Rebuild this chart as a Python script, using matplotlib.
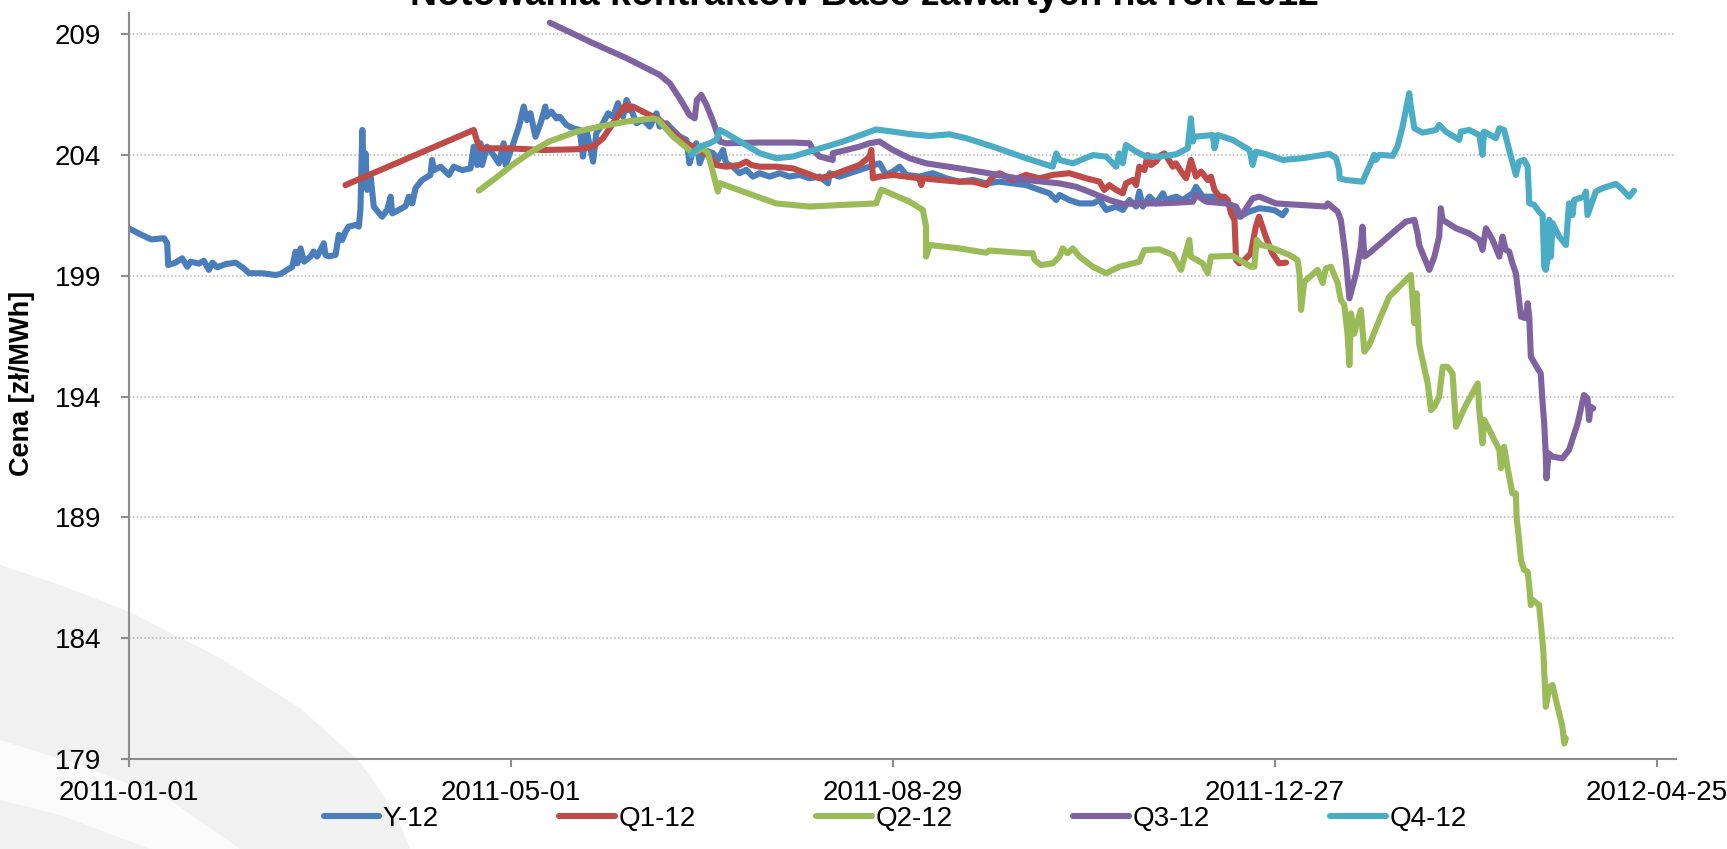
import matplotlib
matplotlib.use('Agg')
import matplotlib.pyplot as plt
import numpy as np
import pandas as pd
from matplotlib.patches import Polygon

plt.rcParams['font.family'] = ['Liberation Sans', 'DejaVu Sans']

START = pd.Timestamp('2011-01-01')

# ---- data: day offset from 2011-01-01 and price [zł/MWh] ----
y12_days = [0, 3, 7, 11, 12, 12.3, 14.6, 16.7, 18.3, 19.4, 22, 23.5, 25.1, 26.2, 27.7, 30.4, 33.5, 36.1,
            37.7, 41.9, 46, 47.6, 51.3, 52.3, 52.9, 53.9, 55, 57, 58, 59.1, 61.2, 61.7, 62.8, 64.9, 65.9,
            67, 68, 69, 71.2, 72.2, 72.7, 73.3, 73.8, 74.3, 74.8, 75.9, 76.9, 79.5, 81.1, 82.2, 82.7,
            84.8, 86.9, 87.9, 89, 90, 92.1, 94.7, 95.2, 95.8, 97.9, 100.5, 102, 104.7, 107.3, 108.3,
            109.4, 110.4, 110.9, 112.5, 114.1, 116.2, 117.7, 118.3, 120.4, 122.5, 124, 125, 126.1,
            127.7, 129.3, 130.8, 131.1, 132.7, 134.3, 135.3, 137.4, 139.5, 141.6, 142.6, 143.7, 145.8,
            146.8, 148.9, 150.5, 152.1, 153.6, 155.2, 156.3, 157.8, 159.4, 161.5, 163.6, 165.7, 166.7,
            168.8, 170.9, 173, 175.1, 176.1, 177.2, 178.2, 179.3, 180.8, 183.5, 185, 186.6, 187.6,
            189.7, 191.8, 193.9, 196, 198.1, 201.3, 204.4, 207.5, 210.7, 213.8, 217, 219.6, 220.1,
            223.2, 226.4, 229.5, 232.6, 235.8, 237.9, 240, 242.1, 244.2, 248.3, 252.5, 256.7, 260.9,
            265.1, 269.3, 273.5, 277.7, 281.8, 286, 289.2, 291.3, 292.3, 295.4, 298.6, 302.8, 304.9,
            307, 310.1, 312.2, 314.3, 316.4, 317.4, 318.5, 320.6, 322.7, 324.8, 325.8, 328.9, 331,
            334.2, 335.2, 337.3, 340.5, 343.6, 346.7, 348.8, 351.9, 355.1, 358, 360, 362.4, 363.5]
y12_vals = [200.96, 200.75, 200.5, 200.55, 200.34, 199.44, 199.54, 199.72, 199.37, 199.58, 199.5, 199.62,
            199.24, 199.54, 199.35, 199.48, 199.54, 199.3, 199.1, 199.1, 199.03, 199.07, 199.37, 199.99,
            199.51, 200.13, 199.58, 199.79, 200.0, 199.79, 200.34, 199.86, 199.8, 199.86, 200.69,
            200.48, 200.82, 201.03, 201.1, 201.03, 201.72, 205.03, 202.82, 204.06, 202.55, 203.1,
            201.86, 201.44, 201.72, 202.27, 201.58, 201.72, 201.88, 202.27, 201.99, 202.62, 202.96,
            203.17, 203.79, 203.37, 203.51, 203.17, 203.51, 203.37, 203.44, 204.34, 203.58, 204.48,
            203.58, 204.34, 204.07, 203.65, 204.48, 203.58, 204.34, 205.17, 206.0, 205.44, 205.72,
            204.75, 205.31, 206.0, 205.58, 205.79, 205.51, 205.58, 205.24, 205.1, 205.03, 203.93,
            205.03, 203.72, 204.89, 205.31, 205.72, 205.58, 206.14, 205.58, 206.27, 205.86, 205.31,
            205.45, 205.17, 205.72, 205.17, 205.31, 205.03, 204.76, 204.62, 203.65, 204.2, 204.48,
            203.65, 204.2, 204.07, 203.79, 204.2, 203.65, 203.51, 203.24, 203.38, 203.1, 203.24,
            203.1, 203.24, 203.1, 203.17, 203.03, 203.1, 202.82, 203.24, 203.1, 203.24, 203.38,
            203.51, 203.65, 203.17, 203.31, 203.51, 203.17, 203.1, 203.24, 203.03, 202.89, 202.96,
            202.82, 202.89, 202.82, 202.75, 202.55, 202.41, 202.13, 202.34, 202.13, 201.99, 201.99,
            202.13, 201.72, 201.86, 201.72, 202.13, 201.86, 202.48, 201.86, 202.27, 201.99, 202.41,
            202.13, 202.27, 202.13, 202.41, 202.68, 202.27, 202.27, 202.13, 201.86, 201.44, 201.65,
            201.79, 201.75, 201.7, 201.5, 201.7]

q1_days = [68, 108.3, 109.4, 110.4, 119.6, 130.1, 140.6, 145.8, 148.9, 152.1, 155.2, 156.3, 156.8, 158.3,
           162.5, 166.7, 170.9, 175.1, 179.3, 182.4, 184.5, 187.6, 191.8, 193.9, 195.5, 198.1, 203.3,
           208.6, 212.8, 217, 221.1, 225.3, 229.5, 232.7, 233.2, 233.7, 235.8, 240, 244.2, 248.3, 248.9,
           249.4, 254.6, 260.9, 265.1, 269.3, 271.4, 273.5, 277.7, 281.8, 286, 290.2, 295.4, 300.7,
           304.9, 306.4, 308, 310.1, 312.2, 313.2, 315.3, 316.4, 317.4, 319, 320, 321.1, 322.6, 324.2,
           325.3, 326.3, 327.9, 328.9, 330.5, 332.1, 333.6, 335.2, 336.8, 338.9, 339.9, 341, 342.6,
           344.1, 345.2, 346.2, 347.3, 347.8, 348.8, 350.4, 352.4, 354, 355, 357.1, 359.2, 361.3, 363.5]
q1_vals = [202.75, 205.03, 204.55, 204.27, 204.27, 204.2, 204.23, 204.34, 204.69, 205.31, 205.93, 206.07,
           205.86, 206.0, 205.72, 205.45, 204.89, 204.48, 204.2, 203.93, 203.58, 203.51, 203.58, 203.72,
           203.58, 203.51, 203.51, 203.44, 203.24, 203.03, 203.17, 203.38, 203.58, 203.93, 204.2, 203.03,
           203.1, 203.17, 203.1, 203.03, 202.75, 203.03, 202.96, 202.89, 202.89, 202.75, 203.1, 203.24,
           202.96, 203.17, 203.03, 203.17, 203.24, 203.03, 202.89, 202.55, 202.75, 202.55, 202.41,
           202.82, 202.96, 202.75, 203.51, 203.37, 203.99, 203.58, 203.72, 203.99, 204.06, 203.86,
           203.51, 203.65, 203.31, 203.03, 203.79, 203.1, 203.31, 202.96, 203.1, 202.55, 202.27, 202.27,
           202.13, 201.58, 201.3, 199.65, 199.51, 199.65, 199.92, 201.03, 201.44, 200.62, 199.92, 199.51,
           199.54]

q2_days = [109.9, 115.1, 120.4, 125.6, 131.9, 140.6, 147.9, 156.3, 164.6, 166.2, 170.9, 177.2, 180.3, 181.9,
           183.5, 185, 185.6, 192.9, 203.3, 213.8, 224.3, 234.7, 236.3, 237.9, 245.2, 249.4, 250.4, 250.4,
           251.5, 260.9, 269.3, 270.3, 281.8, 283.9, 284.5, 286.5, 290.2, 292.3, 293.3, 294.9, 296.5,
           298.6, 302.8, 307, 311.1, 317.4, 319, 323.7, 327.9, 330.5, 331.6, 333.1, 333.6, 337.3, 338.9,
           339.9, 346.7, 348.8, 352.5, 353.5, 354.3, 355.6, 358.2, 364.5, 367.1, 367.7, 368.2, 369.2,
           373.4, 375, 376, 377.6, 379.7, 380.7, 381.8, 382.8, 383.4, 383.9, 384.9, 387, 388.1, 389.6,
           392.8, 395.9, 399.1, 402.7, 403.8, 404.5, 405.3, 405.9, 408, 409, 410.1, 411.6, 412.7, 414.2,
           415.8, 416.9, 420, 423.7, 424.2, 425.2, 425.8, 428.4, 430.5, 431, 432, 433.1, 434.6, 435.7,
           435.9, 436.7, 437.3, 438.3, 439.4, 439.9, 440.4, 441, 443, 444.1, 444.3, 445.1, 446.2, 447.2,
           448.8, 450.3, 450.9, 451.4]
q2_vals = [202.52, 203.03, 203.58, 204.06, 204.55, 204.96, 205.17, 205.38, 205.51, 205.45, 204.76, 204.07,
           204.27, 204.07, 203.24, 202.48, 202.83, 202.48, 201.99, 201.86, 201.93, 201.99, 202.55, 202.48,
           202.06, 201.72, 201.03, 199.79, 200.27, 200.13, 199.95, 200.04, 199.93, 199.93, 199.65, 199.44,
           199.51, 199.79, 200.13, 199.93, 200.13, 199.79, 199.37, 199.1, 199.37, 199.58, 200.06, 200.09,
           199.86, 199.24, 199.79, 200.48, 199.79, 199.51, 199.1, 199.79, 199.82, 199.65, 199.37, 199.37,
           200.48, 200.27, 200.2, 199.86, 199.65, 199.1, 197.58, 198.75, 199.24, 198.7, 199.3, 199.37,
           198.7, 198.0, 197.79, 196.6, 195.3, 197.44, 196.6, 197.58, 195.86, 196.13, 197.17, 198.13,
           198.55, 199.03, 197.03, 198.27, 196.2, 195.79, 194.54, 193.44, 193.58, 193.99, 195.23, 195.23,
           194.96, 192.75, 193.65, 194.54, 193.44, 192.06, 193.03, 192.34, 191.79, 191.03, 191.92, 191.03,
           189.99, 189.99, 189.03, 188.06, 187.23, 186.82, 186.75, 186.13, 185.37, 185.58, 185.37, 183.78,
           183.51, 181.16, 181.99, 182.06, 181.16, 180.34, 179.64, 179.85]

q3_days = [132.2, 145.8, 156.3, 166.7, 169.9, 173, 176.1, 177.7, 178.4, 179.8, 181.4, 183.5, 185, 185.6,
           187.6, 198.1, 208.6, 213.8, 214.9, 217, 221.1, 221.1, 225.3, 229.5, 232.6, 235.8, 240, 245.2,
           250.4, 260.9, 271.4, 281.8, 292.3, 297.5, 302.8, 308, 312.2, 318.5, 323.7, 328.9, 334.2, 335.2,
           338.4, 344.6, 347.8, 349.3, 353, 355.1, 360.3, 367.7, 376, 376.6, 379.7, 380.7, 381.8, 382.3,
           383.4, 385.5, 387, 387.5, 388.1, 389.6, 393.8, 398, 401.2, 403.8, 404.8, 405.3, 408.5, 410.1,
           411.6, 412.1, 412.7, 416.9, 421, 424.2, 425.2, 426.3, 428.4, 430.5, 431.5, 432.5, 433.6, 434.6,
           435.7, 436.2, 437.3, 438.8, 439.4, 439.9, 440.4, 442.5, 443.5, 444.1, 444.6, 445.1, 445.3, 446,
           447.2, 450.3, 452.4, 455.1, 457.1, 458.2, 458.7, 459.2, 460]
q3_vals = [209.47, 208.62, 208.0, 207.31, 206.96, 206.34, 205.65, 205.51, 206.27, 206.48, 206.07, 205.38,
           204.82, 204.55, 204.48, 204.51, 204.51, 204.48, 204.2, 203.93, 203.79, 204.07, 204.2, 204.34,
           204.48, 204.55, 204.2, 203.86, 203.65, 203.44, 203.21, 202.96, 202.82, 202.68, 202.41, 202.13,
           201.97, 201.99, 201.99, 202.02, 202.06, 202.34, 202.06, 201.99, 201.86, 201.44, 202.2, 202.27,
           201.99, 201.93, 201.86, 201.99, 201.65, 201.31, 200.2, 199.65, 198.06, 199.1, 200.2, 201.03,
           199.79, 199.93, 200.41, 200.89, 201.24, 201.31, 200.75, 200.27, 199.24, 199.79, 200.62, 201.79,
           201.31, 200.96, 200.75, 200.48, 200.07, 200.96, 200.48, 199.79, 200.62, 200.07, 200.0, 199.51,
           199.1, 198.55, 197.3, 197.24, 197.86, 197.3, 195.65, 195.17, 194.96, 193.72, 192.89, 191.51,
           190.61, 191.65, 191.51, 191.44, 191.79, 192.89, 194.06, 193.92, 193.03, 193.58, 193.51]

q4_days = [176.7, 177.2, 179.3, 182.4, 184.5, 185.6, 187.6, 192.9, 198.1, 203.3, 208.6, 213.8, 219, 224.3,
           229.5, 234.7, 240, 245.2, 251.5, 257.8, 263, 271.4, 281.8, 290.2, 291.3, 292.3, 296.5, 302.8,
           307, 310.1, 311.1, 312.2, 313.2, 316.4, 319.5, 323.7, 328.9, 332.6, 333.6, 334.2, 334.7, 340.5,
           341, 342, 346.7, 352, 353, 354, 357.2, 362.4, 368.7, 377.1, 379.2, 380.2, 380.3, 382.3, 387.5,
           389.6, 391.2, 391.7, 392.8, 397, 398.5, 400.1, 402.2, 402.7, 403.8, 406.4, 410.6, 411.6, 413.7,
           417.9, 418.4, 421, 424.2, 425.2, 425.7, 429.4, 430.5, 432, 433.6, 435.7, 436.7, 438.3, 439.4,
           439.9, 441.4, 443, 444.1, 444.6, 445.1, 445.6, 446.2, 446.7, 447.2, 449.3, 451.4, 452.4, 453.5,
           454, 457.1, 457.7, 458.2, 460.8, 462.9, 467.1, 468.7, 471.3, 472.8]
q4_vals = [204.0, 204.1, 204.34, 204.48, 204.62, 205.03, 204.89, 204.48, 204.07, 203.86, 203.93, 204.14,
           204.34, 204.55, 204.8, 205.05, 204.96, 204.86, 204.78, 204.85, 204.69, 204.34, 203.86, 203.51,
           204.06, 203.79, 203.65, 203.99, 203.93, 203.51, 204.06, 203.65, 204.41, 204.13, 203.93, 203.93,
           204.02, 204.27, 205.51, 204.55, 204.75, 204.82, 204.27, 204.82, 204.62, 204.2, 203.58, 204.13,
           204.03, 203.79, 203.86, 204.04, 203.86, 203.38, 203.03, 202.96, 202.89, 203.51, 204.0, 203.79,
           204.0, 203.96, 204.34, 205.17, 206.55, 205.99, 205.1, 204.92, 205.03, 205.24, 204.96, 204.62,
           204.96, 205.03, 204.82, 204.0, 204.96, 204.69, 205.1, 205.03, 204.2, 203.17, 203.72, 203.79,
           203.51, 202.0, 201.93, 201.65, 201.51, 199.37, 199.24, 199.65, 201.31, 199.79, 201.17, 200.62,
           200.27, 201.99, 201.51, 202.13, 202.27, 202.48, 201.51, 202.48, 202.62, 202.8, 202.62, 202.27,
           202.52]

labels = ['Y-12', 'Q1-12', 'Q2-12', 'Q3-12', 'Q4-12']
colors = ['#4A7EBB', '#BE4B48', '#9BBB59', '#7F63A1', '#4BACC6']
all_days = [y12_days, q1_days, q2_days, q3_days, q4_days]
all_vals = [y12_vals, q1_vals, q2_vals, q3_vals, q4_vals]

xtick_labels = ['2011-01-01', '2011-05-01', '2011-08-29', '2011-12-27', '2012-04-25']
ytick_vals = [179, 184, 189, 194, 199, 204, 209]

W, H = 1727, 849
fig = plt.figure(figsize=(W / 100, H / 100), dpi=100)

# decorative light-grey swoosh in the background (lower left)
bg = fig.add_axes([0, 0, 1, 1], zorder=0)
bg.set_xlim(0, W)
bg.set_ylim(H, 0)
bg.axis('off')
bg.add_patch(Polygon([(0, 565), (60, 585), (130, 612), (220, 658), (300, 708), (360, 762),
                      (395, 812), (410, 849), (0, 849)], closed=True, color='#f1f1f1', lw=0))
bg.add_patch(Polygon([(0, 740), (80, 765), (170, 800), (240, 849), (150, 849), (60, 815), (0, 800)],
                     closed=True, color='#fbfbfb', lw=0))

ax = fig.add_axes([129 / W, 1 - 759 / H, (1676 - 129) / W, (759 - 13) / H], zorder=1)
ax.patch.set_alpha(0)

for lab, col, d, v in zip(labels, colors, all_days, all_vals):
    dates = START + pd.to_timedelta(np.asarray(d, dtype=float), unit='D')
    ax.plot(dates, v, color=col, lw=4.4, label=lab, solid_joinstyle='round', solid_capstyle='round')

ax.set_xlim(START, START + pd.Timedelta(days=486))
ax.set_ylim(179, 209.87)
ax.set_yticks(ytick_vals)
ax.set_yticklabels([str(t) for t in ytick_vals])
ax.set_xticks([pd.Timestamp(s) for s in xtick_labels])
ax.set_xticklabels(xtick_labels)

for s in ['top', 'right']:
    ax.spines[s].set_visible(False)
for s in ['left', 'bottom']:
    ax.spines[s].set_color('#8c8c8c')
    ax.spines[s].set_linewidth(1.5)
ax.tick_params(axis='both', direction='out', length=6, width=1.5, color='#8c8c8c',
               labelsize=20, labelcolor='black')
ax.tick_params(axis='x', pad=9)
ax.tick_params(axis='y', pad=14)
ax.yaxis.grid(True, linestyle=(0, (1, 1.5)), color='#b4b4b4', lw=1.1)
ax.set_axisbelow(True)

fig.text(22 / W, 1 - 383 / H, 'Cena [zł/MWh]', rotation=90, ha='center', va='center',
         fontsize=19.5, fontweight='bold')
fig.text(0.5008, 1 - 5 / H, 'Notowania kontraktów Base zawartych na rok 2012', ha='center',
         va='baseline', fontsize=27, fontweight='bold')

ax.legend(loc='center', bbox_to_anchor=(895 / W, 1 - 819 / H), bbox_transform=fig.transFigure,
          ncol=5, frameon=False, fontsize=20, handlelength=2.0, handletextpad=0.12,
          columnspacing=4.35)

fig.savefig('out.png', dpi=100)
